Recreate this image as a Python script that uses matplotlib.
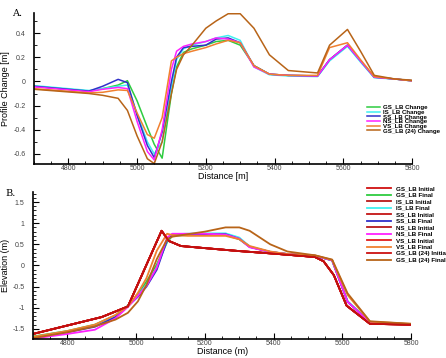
import numpy as np
import matplotlib
matplotlib.use('Agg')
import matplotlib.pyplot as plt
from matplotlib.ticker import MultipleLocator

plt.rcParams['font.family'] = ['Liberation Sans', 'DejaVu Sans']

# ---- Panel A : profile change ----
dA = [4700, 4860, 4900, 4945, 4972, 5000, 5030, 5050, 5073, 5100, 5115, 5135, 5160,
      5200, 5230, 5265, 5300, 5340, 5385, 5440, 5525, 5560, 5612, 5650, 5690, 5750, 5800]
gs_chg = [-0.04, -0.08, -0.06, -0.03, 0.006, -0.16, -0.38, -0.52, -0.635, -0.1, 0.12, 0.24, 0.27,
          0.3, 0.33, 0.34, 0.3, 0.13, 0.06, 0.05, 0.045, 0.18, 0.3, 0.17, 0.035, 0.02, 0.005]
is_chg = [-0.035, -0.075, -0.06, -0.04, -0.03, -0.27, -0.5, -0.6, -0.5, -0.05, 0.18, 0.27, 0.3,
          0.33, 0.36, 0.38, 0.34, 0.12, 0.055, 0.045, 0.04, 0.17, 0.29, 0.16, 0.03, 0.02, 0.005]
ss_chg = [-0.04, -0.08, -0.04, 0.017, -0.01, -0.28, -0.53, -0.63, -0.42, 0.0, 0.2, 0.28, 0.29,
          0.3, 0.35, 0.36, 0.32, 0.13, 0.06, 0.05, 0.045, 0.18, 0.30, 0.17, 0.035, 0.02, 0.005]
ns_chg = [-0.045, -0.085, -0.065, -0.05, -0.06, -0.33, -0.58, -0.65, -0.4, 0.1, 0.25, 0.29, 0.31,
          0.33, 0.36, 0.35, 0.32, 0.12, 0.06, 0.05, 0.045, 0.18, 0.30, 0.17, 0.035, 0.02, 0.005]
vs_chg = [-0.06, -0.095, -0.09, -0.07, -0.075, -0.26, -0.44, -0.47, -0.3, 0.17, 0.2, 0.23, 0.25,
          0.28, 0.31, 0.34, 0.32, 0.13, 0.06, 0.05, 0.05, 0.28, 0.32, 0.18, 0.04, 0.02, 0.005]
gs24_chg = [-0.065, -0.1, -0.115, -0.14, -0.24, -0.45, -0.64, -0.68, -0.5, -0.1, 0.1, 0.22, 0.3,
            0.44, 0.5, 0.56, 0.56, 0.44, 0.22, 0.09, 0.07, 0.3, 0.43, 0.25, 0.05, 0.02, 0.01]

# ---- Panel B : elevation ----
dI = [4700, 4800, 4900, 4976, 5074, 5095, 5130, 5200, 5300, 5400, 5520, 5545, 5575, 5612, 5680, 5800]
initial = [-1.62, -1.42, -1.22, -0.97, 0.82, 0.58, 0.46, 0.41, 0.34, 0.28, 0.20, 0.10, -0.23,
           -0.95, -1.38, -1.40]

dB = [4700, 4800, 4880, 4940, 4976, 5005, 5030, 5060, 5090, 5105, 5150, 5200, 5260, 5300,
      5330, 5390, 5440, 5520, 5570, 5615, 5680, 5800]
gs_fin = [-1.68, -1.55, -1.40, -1.18, -0.95, -0.70, -0.38, 0.02, 0.55, 0.70, 0.72, 0.73, 0.72,
          0.62, 0.44, 0.32, 0.27, 0.23, 0.12, -0.85, -1.34, -1.39]
is_fin = [-1.70, -1.56, -1.42, -1.20, -0.96, -0.72, -0.45, -0.05, 0.58, 0.74, 0.75, 0.76, 0.76,
          0.66, 0.45, 0.32, 0.27, 0.23, 0.12, -0.85, -1.34, -1.39]
ss_fin = [-1.71, -1.58, -1.45, -1.22, -0.96, -0.74, -0.50, -0.10, 0.60, 0.72, 0.73, 0.74, 0.74,
          0.63, 0.44, 0.32, 0.27, 0.23, 0.12, -0.86, -1.35, -1.39]
ns_fin = [-1.73, -1.62, -1.52, -1.25, -0.98, -0.72, -0.48, -0.05, 0.66, 0.75, 0.75, 0.75, 0.73,
          0.63, 0.43, 0.32, 0.27, 0.23, 0.12, -0.86, -1.35, -1.39]
vs_fin = [-1.69, -1.55, -1.40, -1.17, -0.97, -0.65, -0.30, 0.35, 0.75, 0.72, 0.70, 0.70, 0.70,
          0.62, 0.46, 0.33, 0.27, 0.24, 0.13, -0.70, -1.33, -1.38]
gs24_fin = [-1.72, -1.58, -1.44, -1.28, -1.12, -0.85, -0.46, 0.15, 0.62, 0.68, 0.74, 0.80, 0.90,
            0.90, 0.82, 0.50, 0.33, 0.24, 0.14, -0.66, -1.32, -1.38]

names = ['GS_LB', 'IS_LB', 'SS_LB', 'NS_LB', 'VS_LB', 'GS_LB (24)']
cols = ['#2ecc40', '#40f0f0', '#3030c8', '#ff20ff', '#f08030', '#b86418']
init_cols = ['#d01010', '#b81818', '#c41414', '#b81818', '#e01c1c', '#cc1010']

fig = plt.figure(figsize=(4.46, 3.58), dpi=100)
axA = fig.add_axes([0.076, 0.542, 0.848, 0.422])
axB = fig.add_axes([0.074, 0.053, 0.848, 0.411])

chg = [gs_chg, is_chg, ss_chg, ns_chg, vs_chg, gs24_chg]
for i in range(6):
    axA.plot(dA, chg[i], color=cols[i], lw=1.1, label=names[i] + ' Change')

fin = [gs_fin, is_fin, ss_fin, ns_fin, vs_fin, gs24_fin]
for i in range(6):
    axB.plot(dI, initial, color=init_cols[i], lw=1.3, label=names[i] + ' Initial')
    axB.plot(dB, fin[i], color=cols[i], lw=1.3, label=names[i] + ' Final')
# initial profile drawn again on top so the red stays visible
axB.plot(dI, initial, color='#c01010', lw=1.0)

for ax in (axA, axB):
    ax.set_xlim(4700, 5800)
    ax.xaxis.set_major_locator(MultipleLocator(200))
    ax.xaxis.set_minor_locator(MultipleLocator(50))
    ax.spines['top'].set_visible(False)
    ax.spines['right'].set_visible(False)
    ax.spines['left'].set_linewidth(1.2)
    ax.spines['bottom'].set_linewidth(1.2)
    ax.tick_params(which='both', direction='in', labelsize=5.0, labelcolor='#444444',
                   pad=1.0)
    ax.tick_params(axis='y', pad=6)
    ax.tick_params(which='major', length=4)
    ax.tick_params(which='minor', length=2)
    ax.set_facecolor('none')

axA.set_ylim(-0.683, 0.567)
axA.yaxis.set_minor_locator(MultipleLocator(0.1))
axA.set_yticks([-0.6, -0.4, -0.2, 0, 0.2, 0.4])
axA.set_yticklabels(['-0.6', '-0.4', '-0.2', '0', '0.2', '0.4'])
axA.set_xlabel('Distance [m]', fontsize=6.5, va='center')
axA.xaxis.set_label_coords(0.5, -0.085)
axA.set_ylabel('Profile Change [m]', fontsize=6.5, va='center')
axA.yaxis.set_label_coords(-0.074, 0.5)

axB.set_ylim(-1.74, 1.74)
axB.set_yticks([-1.5, -1, -0.5, 0, 0.5, 1, 1.5])
axB.set_yticklabels(['-1.5', '-1', '-0.5', '0', '0.5', '1', '1.5'])
axB.yaxis.set_minor_locator(MultipleLocator(0.1))
axB.set_xlabel('Distance (m)', fontsize=6.5, va='center')
axB.xaxis.set_label_coords(0.5, -0.088)
axB.set_ylabel('Elevation (m)', fontsize=6.5, va='center')
axB.yaxis.set_label_coords(-0.072, 0.5)

legA = axA.legend(loc='upper left', bbox_to_anchor=(367 / 446, 1 - 105 / 358),
                  bbox_transform=fig.transFigure, frameon=False, fontsize=4.4,
                  handlelength=2.1, handletextpad=0.5, labelspacing=-0.1,
                  borderpad=0, borderaxespad=0)
for t in legA.get_texts():
    t.set_fontweight('bold')

legB = axB.legend(loc='upper left', bbox_to_anchor=(367 / 446, 1 - 186 / 358),
                  bbox_transform=fig.transFigure, frameon=False, fontsize=4.5,
                  handlelength=3.9, handletextpad=0.7, labelspacing=0.18,
                  borderpad=0, borderaxespad=0)
for t in legB.get_texts():
    t.set_fontweight('bold')

fig.text(12 / 446, 1 - 14 / 358, 'A.', fontsize=7, family='serif', va='center')
fig.text(5 / 446, 1 - 194 / 358, 'B.', fontsize=7, family='serif', va='center')

fig.savefig('out.png', dpi=100)
